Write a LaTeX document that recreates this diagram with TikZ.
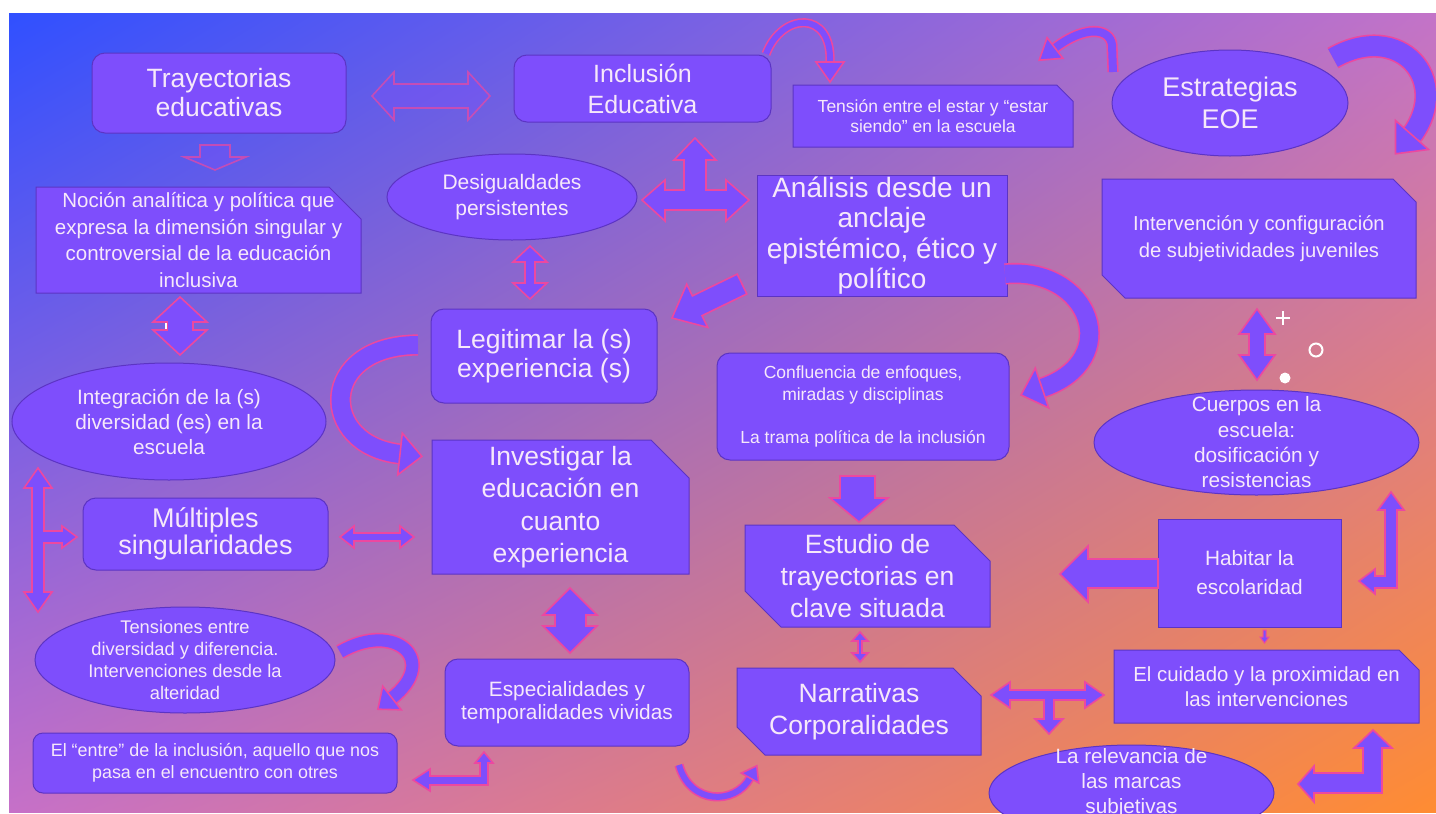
\documentclass[tikz,border=0pt]{standalone}
\usepackage{fontspec}
\setmainfont{Liberation Sans}
\usetikzlibrary{shapes.geometric,shapes.misc,shadings}
\definecolor{boxfill}{RGB}{126,78,252}
\definecolor{boxline}{RGB}{92,52,196}
\definecolor{boxtext}{RGB}{246,232,250}
\definecolor{arrline}{RGB}{236,72,160}
\definecolor{bgul}{RGB}{48,80,255}
\definecolor{bgur}{RGB}{195,115,200}
\definecolor{bgll}{RGB}{198,112,200}
\definecolor{bglr}{RGB}{255,140,50}
\tikzset{
  card/.style={draw=boxline, line width=1pt, fill=boxfill, text=boxtext, align=center, inner sep=0pt},
  roundbox/.style={card, rounded corners=13pt},
  plainbox/.style={card},
  snipbox/.style={card, chamfered rectangle, chamfered rectangle corners=north east, chamfered rectangle sep=#1, inner ysep=-#1},
  snipbox/.default=14pt,
  twosnip/.style={snipbox=#1, chamfered rectangle corners={north east,south west}},
  twosnip/.default=16pt,
  ovalbox/.style={card, ellipse, inner ysep=-12pt},
  blockarr/.style={fill=boxfill, draw=arrline, line width=1.6pt, line join=miter},
  faintarr/.style={blockarr, fill opacity=0.35, draw opacity=0.7},
  ribbon/.style={draw=arrline, line width=1.6pt, double=boxfill, double distance=#1},
}
\begin{document}
\begin{tikzpicture}[x=1pt, y=-1pt]
  \useasboundingbox (0,0) rectangle (1436,814);
  \clip (0,0) rectangle (1436,814);
  \fill[white] (0,0) rectangle (1436,814);
  \shade[upper left=bgul, upper right=bgur, lower left=bgll, lower right=bglr] (9,13) rectangle (1436,812);

  % faint arrows
  \filldraw[faintarr] (372,96) -- (394,72) -- (394,84) -- (468,84) -- (468,72) -- (490,96) -- (468,120) -- (468,108) -- (394,108) -- (394,120) -- cycle;
  \filldraw[faintarr] (200,145) -- (230,145) -- (230,157) -- (246,157) -- (215,170) -- (184,157) -- (200,157) -- cycle;

  % boxes
  \node[roundbox, minimum width=254, minimum height=80, font=\fontsize{26.5}{29}\selectfont] (tray) at (219,93) {Trayectorias\\educativas};
  \node[roundbox, minimum width=257, minimum height=67, font=\fontsize{25}{31}\selectfont] (incl) at (642.5,88.5) {Inclusión\\Educativa};
  \node[snipbox=10pt, minimum width=280, minimum height=62, font=\fontsize{17.5}{19.5}\selectfont] (tension) at (933,116) {Tensión entre el estar y “estar\\siendo” en la escuela};
  \node[ovalbox, minimum width=236, minimum height=106, font=\fontsize{27}{32}\selectfont] (estrat) at (1230,103) {Estrategias\\EOE};
  \node[ovalbox, minimum width=250, minimum height=86, font=\fontsize{21}{26.5}\selectfont] (desig) at (512,197) {Desigualdades\\persistentes};
  \node[plainbox, minimum width=250, minimum height=121, font=\fontsize{28}{30.5}\selectfont] (analisis) at (882,235.5) {Análisis desde un\\anclaje\\epistémico, ético y\\político};
  \node[snipbox=16pt, minimum width=325, minimum height=106, font=\fontsize{20.5}{26.5}\selectfont] (nocion) at (198.5,240) {Noción analítica y política que\\expresa la dimensión singular y\\controversial de la educación\\inclusiva};
  \node[twosnip=18pt, minimum width=314, minimum height=119, font=\fontsize{20.2}{27}\selectfont] (interv) at (1259,238.5) {Intervención y configuración\\de subjetividades juveniles};
  \node[roundbox, minimum width=226, minimum height=94, font=\fontsize{26.5}{28.5}\selectfont] (legit) at (544,356) {Legitimar la (s)\\experiencia (s)};
  \node[roundbox, minimum width=292, minimum height=107, font=\fontsize{17.5}{21.7}\selectfont] (conflu) at (863,406.5) {Confluencia de enfoques,\\miradas y disciplinas\\\mbox{}\\La trama política de la inclusión};
  \node[ovalbox, minimum width=314, minimum height=117, font=\fontsize{20.8}{25}\selectfont] (integ) at (169,421.5) {Integración de la (s)\\diversidad (es) en la\\escuela};
  \node[ovalbox, minimum width=325, minimum height=105, font=\fontsize{20.8}{25.3}\selectfont] (cuerpos) at (1256.5,442.5) {Cuerpos en la\\escuela:\\dosificación y\\resistencias};
  \node[snipbox=19pt, minimum width=257, minimum height=134, font=\fontsize{26.5}{32.5}\selectfont] (invest) at (560.5,507) {Investigar la\\educación en\\cuanto\\experiencia};
  \node[roundbox, minimum width=245, minimum height=72, font=\fontsize{27}{27}\selectfont] (multi) at (205.5,534) {Múltiples\\singularidades};
  \node[twosnip=18pt, minimum width=245, minimum height=102, font=\fontsize{26.5}{31.7}\selectfont] (estudio) at (867.5,576) {Estudio de\\trayectorias en\\clave situada};
  \node[plainbox, minimum width=183, minimum height=108, font=\fontsize{20.8}{29}\selectfont] (habitar) at (1249.5,573) {Habitar la\\escolaridad};
  \node[ovalbox, minimum width=300, minimum height=106, font=\fontsize{18.3}{21.7}\selectfont] (tensiones) at (185,660) {Tensiones entre\\diversidad y diferencia.\\Intervenciones desde la\\alteridad};
  \node[roundbox, minimum width=244, minimum height=87, font=\fontsize{20.8}{23.3}\selectfont] (especial) at (567,702.5) {Especialidades y\\temporalidades vividas};
  \node[twosnip=14pt, minimum width=244, minimum height=87, font=\fontsize{26.5}{31.7}\selectfont] (narr) at (859,711.5) {Narrativas\\Corporalidades};
  \node[snipbox=10pt, minimum width=305, minimum height=73, font=\fontsize{20.4}{25}\selectfont] (cuidado) at (1266.5,686.5) {El cuidado y la proximidad en\\las intervenciones};
  \node[ovalbox, minimum width=285, minimum height=96, label={[text=boxtext, align=center, font=\fontsize{20.7}{25}\selectfont, yshift=10pt]center:{La relevancia de\\las marcas\\subjetivas}}] (relev) at (1131.5,793) {};
  \node[roundbox, rounded corners=10pt, minimum width=364, minimum height=60, font=\fontsize{17.9}{21.7}\selectfont] (entre) at (215,763) {El “entre” de la inclusión, aquello que nos\\pasa en el encuentro con otres};

  % straight block arrows
  \filldraw[blockarr] (180,297) -- (207,322) -- (193,322) -- (193,330) -- (207,330) -- (180,355) -- (153,330) -- (167,330) -- (167,322) -- (153,322) -- cycle;
  \draw[white, line width=1.5pt] (166,323) -- (166,329);
  \filldraw[blockarr] (530,246) -- (547,262) -- (535,262) -- (535,283) -- (547,283) -- (530,299) -- (513,283) -- (525,283) -- (525,262) -- (513,262) -- cycle;
  \filldraw[blockarr] (695,138) -- (716,160) -- (706,160) -- (706,190) -- (726,190) -- (726,180) -- (749,200) -- (726,221) -- (726,210) -- (665,210) -- (665,221) -- (642,200) -- (665,180) -- (665,190) -- (684,190) -- (684,160) -- (674,160) -- cycle;
  \filldraw[blockarr] (737.2,274.1) -- (692.4,295.9) -- (686.7,284.2) -- (672,318) -- (707.7,327.4) -- (702,315.7) -- (746.8,293.9) -- cycle;
  \filldraw[blockarr] (340,537) -- (354,526) -- (354,533) -- (400,533) -- (400,526) -- (414,537) -- (400,548) -- (400,541) -- (354,541) -- (354,548) -- cycle;
  \filldraw[blockarr] (38,468) -- (52,488) -- (44,488) -- (44,531) -- (62,531) -- (62,526) -- (77,537) -- (62,548) -- (62,543) -- (44,543) -- (44,592) -- (52,592) -- (38,612) -- (24,592) -- (32,592) -- (32,488) -- (24,488) -- cycle;
  \filldraw[blockarr] (570,588) -- (597,615) -- (586,615) -- (586,626) -- (597,626) -- (570,653) -- (543,626) -- (555,626) -- (555,615) -- (543,615) -- cycle;
  \filldraw[blockarr] (484,752) -- (493,763) -- (488,763) -- (488,785) -- (430,785) -- (430,791) -- (413,780) -- (430,769) -- (430,776) -- (480,776) -- (480,763) -- (475,763) -- cycle;
  \filldraw[blockarr] (840,476) -- (875,476) -- (875,498) -- (888,498) -- (859,522) -- (830,498) -- (840,498) -- cycle;
  \filldraw[blockarr] (860,632) -- (868,641) -- (862,641) -- (862,653) -- (868,653) -- (860,662) -- (852,653) -- (858,653) -- (858,641) -- (852,641) -- cycle;
  \filldraw[blockarr] (1257,309) -- (1275,334) -- (1265,334) -- (1265,355) -- (1275,355) -- (1257,380) -- (1239,355) -- (1249,355) -- (1249,334) -- (1239,334) -- cycle;
  \filldraw[blockarr] (1060,574) -- (1088,546) -- (1088,559) -- (1158,559) -- (1158,588) -- (1088,588) -- (1088,602) -- cycle;
  \filldraw[blockarr, line width=1pt] (1263,630) -- (1266,630) -- (1266,637) -- (1269,637) -- (1264.5,643) -- (1260,637) -- (1263,637) -- cycle;
  \filldraw[blockarr] (1391,492) -- (1404,510) -- (1397,510) -- (1397,588) -- (1375,588) -- (1375,594) -- (1359,581) -- (1375,569) -- (1375,576) -- (1385,576) -- (1385,510) -- (1378,510) -- cycle;
  \filldraw[blockarr] (991,695) -- (1010,682) -- (1010,690) -- (1085,690) -- (1085,682) -- (1104,695) -- (1085,708) -- (1085,700) -- (1054,700) -- (1054,719) -- (1063,719) -- (1049,734) -- (1035,719) -- (1044,719) -- (1044,700) -- (1010,700) -- (1010,708) -- cycle;
  \filldraw[blockarr] (1373,730) -- (1392,748) -- (1382,748) -- (1382,793) -- (1314,793) -- (1314,802) -- (1298,784) -- (1314,766) -- (1314,773) -- (1363,773) -- (1363,748) -- (1354,748) -- cycle;

  % curved arrows
  \draw[ribbon=6pt] (766,54) .. controls (782,12) and (832,10) .. (830,62);
  \filldraw[blockarr] (816,62) -- (844,62) -- (830,82) -- cycle;
  \draw[ribbon=8pt] (1113,72) -- (1112,45) .. controls (1110,28) and (1085,25) .. (1055,48);
  \filldraw[blockarr] (1062.9,58.3) -- (1039.2,60.2) -- (1047.1,37.7) -- cycle;
  \draw[ribbon=20pt] (1333,58) .. controls (1400,20) and (1452,80) .. (1412,135);
  \filldraw[blockarr] (1428.5,149.5) -- (1395.5,153.8) -- (1395.5,120.5) -- cycle;
  \draw[ribbon=18pt] (1005,274) .. controls (1090,266) and (1125,360) .. (1042,388);
  \filldraw[blockarr] (1048.7,407.9) -- (1021,395) -- (1035.3,368.1) -- cycle;
  \draw[ribbon=18pt] (418,345) .. controls (318,345) and (318,445) .. (400,454);
  \filldraw[blockarr] (397.7,474.9) -- (421.9,456.4) -- (402.3,433.1) -- cycle;
  \draw[ribbon=12pt] (340,652) .. controls (395,620) and (440,660) .. (392,698);
  \filldraw[blockarr] (401.3,709.8) -- (377.9,709.2) -- (382.7,686.2) -- cycle;
  \draw[ribbon=6pt] (679,765) .. controls (690,805) and (735,805) .. (750,778);
  \filldraw[blockarr] (758.7,782.9) -- (756.8,765.8) -- (741.3,773.1) -- cycle;

  % marks
  \draw[white, line width=2pt] (1276,318) -- (1290,318) (1283,311) -- (1283,325);
  \draw[white, line width=2pt] (1316,350) circle[radius=6.5];
  \fill[white] (1285,378) circle[radius=5.5];
\end{tikzpicture}
\end{document}
